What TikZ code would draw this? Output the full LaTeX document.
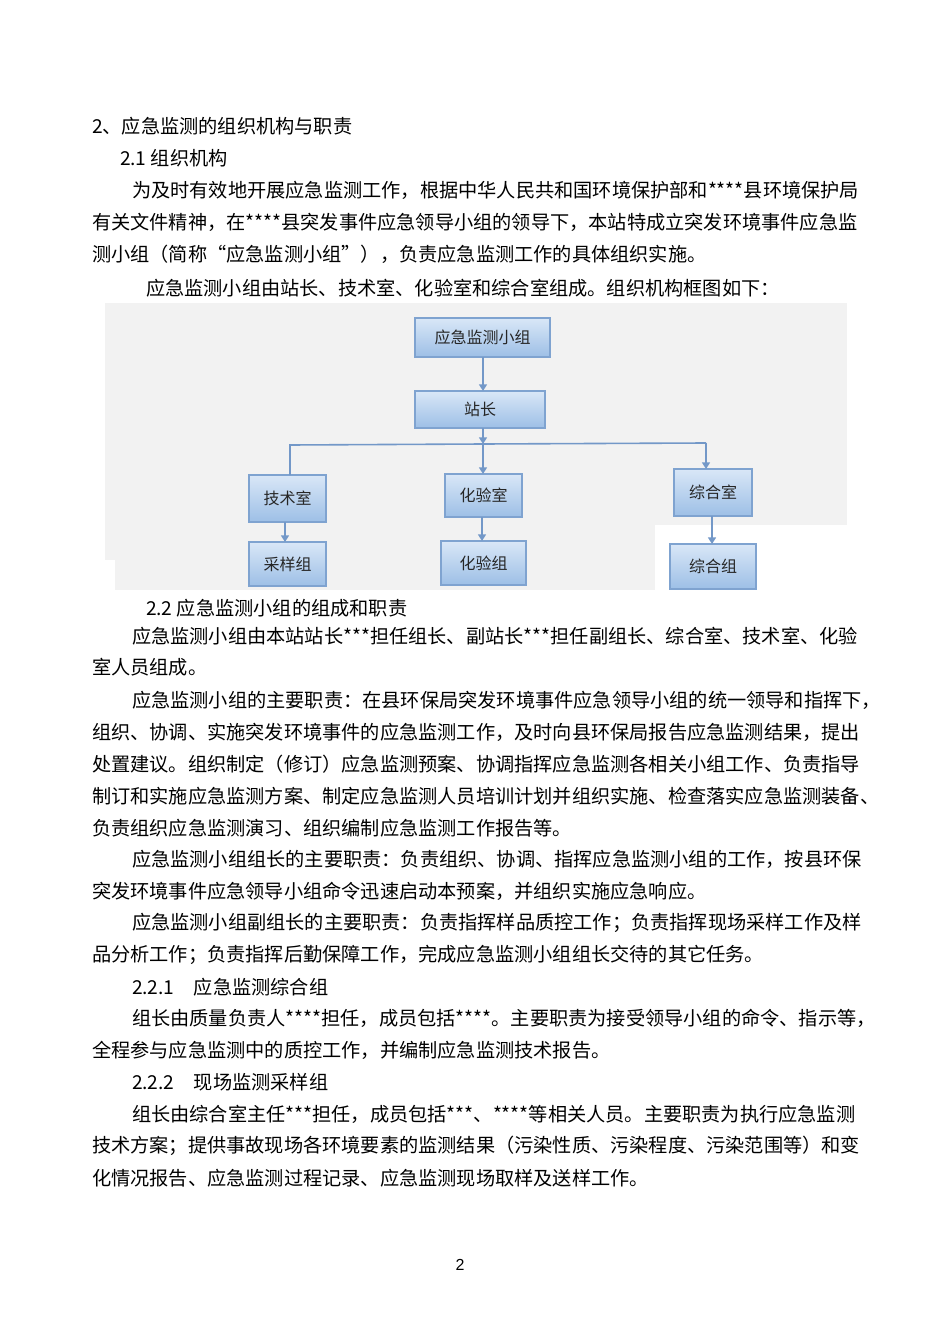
\documentclass[tikz,border=0pt]{standalone}
\usepackage{fontspec}
\setmainfont{Noto Sans CJK SC}
\newfontfamily\numfont{Liberation Sans}
\usetikzlibrary{arrows.meta}
\XeTeXinterchartokenstate=1
\newtoks\cjkglue \cjkglue={\hskip0pt plus 2pt\relax}
\XeTeXinterchartoks 1 1 = \cjkglue
\XeTeXinterchartoks 1 2 = \cjkglue
\XeTeXinterchartoks 2 1 = \cjkglue
\XeTeXinterchartoks 1 3 = \cjkglue
\XeTeXinterchartoks 3 1 = \cjkglue
\XeTeXinterchartoks 0 1 = \cjkglue
\XeTeXinterchartoks 1 0 = \cjkglue
\XeTeXinterchartoks 3 0 = \cjkglue
\XeTeXinterchartoks 0 3 = \cjkglue
\XeTeXinterchartoks 3 3 = \cjkglue
\XeTeXinterchartoks 3 2 = \cjkglue
\definecolor{bord}{HTML}{7FA3D0}
\definecolor{arr}{HTML}{7398C8}
\definecolor{bg}{HTML}{F2F2F2}
\tikzset{
  every node/.style={inner sep=0pt,outer sep=0pt},
  txt/.style={anchor=west,font=\fontsize{14.4pt}{16pt}\selectfont},
  box/.style={draw=bord,line width=1.4pt,top color=HTML-top,bottom color=HTML-bot,
    font=\fontsize{12pt}{14pt}\selectfont,text=black!85},
  conn/.style={draw=arr,line width=1.2pt,-{Triangle[length=5pt,width=6pt]}},
  plain/.style={draw=arr,line width=1.2pt}
}
\definecolor{HTML-top}{HTML}{D9E7F7}
\definecolor{HTML-bot}{HTML}{9DBFE6}
\newcommand{\jl}[4]{\node[txt] (#1) at (#2,#3) {\hbox to \dimexpr(866pt-#2pt)*3/4\relax{#4}};}
\newcommand{\pl}[4]{\node[txt] (#1) at (#2,#3) {#4};}
\begin{document}
\begin{tikzpicture}[x=0.75pt,y=-0.75pt]
\useasboundingbox[fill=white] (0,0) rectangle (950,1344);
% background of chart
\fill[bg] (105,303) rectangle (847,525);
\fill[bg] (105,525) rectangle (655,560);
\fill[bg] (115,560) rectangle (655,590);
% text
\pl{t1}{92}{126}{2、应急监测的组织机构与职责}
\pl{t2}{120}{158}{2.1 组织机构}
\jl{t3}{132}{190}{为及时有效地开展应急监测工作，根据中华人民共和国环境保护部和****县环境保护局}
\jl{t4}{92}{222}{有关文件精神，在****县突发事件应急领导小组的领导下，本站特成立突发环境事件应急监}
\pl{t5}{92}{254}{测小组（简称“应急监测小组”），负责应急监测工作的具体组织实施。}
\pl{t6}{146}{288}{应急监测小组由站长、技术室、化验室和综合室组成。组织机构框图如下：}
\pl{t7}{146}{608}{2.2 应急监测小组的组成和职责}
\jl{t8}{132}{636}{应急监测小组由本站站长***担任组长、副站长***担任副组长、综合室、技术室、化验}
\pl{t9}{92}{667}{室人员组成。}
\jl{t10}{132}{700}{应急监测小组的主要职责：在县环保局突发环境事件应急领导小组的统一领导和指挥下，}
\jl{t11}{92}{732}{组织、协调、实施突发环境事件的应急监测工作，及时向县环保局报告应急监测结果，提出}
\jl{t12}{92}{764}{处置建议。组织制定（修订）应急监测预案、协调指挥应急监测各相关小组工作、负责指导}
\jl{t13}{92}{796}{制订和实施应急监测方案、制定应急监测人员培训计划并组织实施、检查落实应急监测装备、}
\pl{t14}{92}{828}{负责组织应急监测演习、组织编制应急监测工作报告等。}
\jl{t15}{132}{859}{应急监测小组组长的主要职责：负责组织、协调、指挥应急监测小组的工作，按县环保}
\pl{t16}{92}{891}{突发环境事件应急领导小组命令迅速启动本预案，并组织实施应急响应。}
\jl{t17}{132}{923}{应急监测小组副组长的主要职责：负责指挥样品质控工作；负责指挥现场采样工作及样}
\pl{t18}{92}{955}{品分析工作；负责指挥后勤保障工作，完成应急监测小组组长交待的其它任务。}
\pl{t19}{132}{987}{2.2.1\hspace{1em}应急监测综合组}
\jl{t20}{132}{1018}{组长由质量负责人****担任，成员包括****。主要职责为接受领导小组的命令、指示等，}
\pl{t21}{92}{1050}{全程参与应急监测中的质控工作，并编制应急监测技术报告。}
\pl{t22}{132}{1082}{2.2.2\hspace{1em}现场监测采样组}
\jl{t23}{132}{1114}{组长由综合室主任***担任，成员包括***、****等相关人员。主要职责为执行应急监测}
\jl{t24}{92}{1146}{技术方案；提供事故现场各环境要素的监测结果（污染性质、污染程度、污染范围等）和变}
\pl{t25}{92}{1178}{化情况报告、应急监测过程记录、应急监测现场取样及送样工作。}
\node[font=\numfont\fontsize{12pt}{14pt}\selectfont] (pg) at (460,1265) {2};
% chart
\node[box,minimum width=135*0.75pt,minimum height=39*0.75pt] (A) at (482.5,337.5) {应急监测小组};
\node[box,minimum width=130*0.75pt,minimum height=37*0.75pt] (B) at (480,409.5) {站长};
\node[box,minimum width=77*0.75pt,minimum height=47*0.75pt] (C) at (287.5,498.5) {技术室};
\node[box,minimum width=77*0.75pt,minimum height=43*0.75pt] (D) at (483.5,495.5) {化验室};
\node[box,minimum width=78*0.75pt,minimum height=47*0.75pt] (E) at (713,492.5) {综合室};
\node[box,minimum width=77*0.75pt,minimum height=44*0.75pt] (F) at (287.5,564) {采样组};
\node[box,minimum width=85*0.75pt,minimum height=44*0.75pt] (G) at (483.5,563) {化验组};
\node[box,minimum width=86*0.75pt,minimum height=45*0.75pt] (H) at (713,566.5) {综合组};
\coordinate (bl) at (290,445);
\coordinate (bm) at (483,444);
\coordinate (br) at (706,443);
\draw[conn] (A.south -| bm) -- (B.north -| bm);
\draw[conn] (B.south -| bm) -- (bm);
\draw[plain] (C.north -| bl) -- (bl) -- (bm) -- (br);
\draw[conn] (bm) -- (D.north -| bm);
\draw[conn] (br) -- (E.north -| br);
\draw[conn] (C.south -| 285,0) -- (F.north -| 285,0);
\draw[conn] (D.south -| 482,0) -- (G.north -| 482,0);
\draw[conn] (E.south -| 712,0) -- (H.north -| 712,0);
\end{tikzpicture}
\end{document}
